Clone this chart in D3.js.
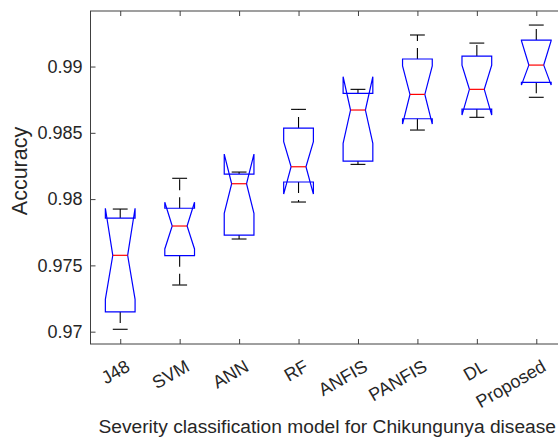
<!DOCTYPE html>
<html>
<head>
<meta charset="utf-8">
<script src="https://cdnjs.cloudflare.com/ajax/libs/d3/7.8.5/d3.min.js"></script>
<style>
  body { margin: 0; background: #fff; }
  text { font-family: "Liberation Sans", Arial, sans-serif; fill: #262626; }
</style>
</head>
<body>
<div id="chart"></div>
<script>
// values
const models = ["J48", "SVM", "ANN", "RF", "ANFIS", "PANFIS", "DL", "Proposed"];
const whiskerLow  = [0.97018, 0.97352, 0.97699, 0.97978, 0.98262, 0.98521, 0.98617, 0.98768];
const quart1      = [0.97149, 0.97573, 0.97729, 0.98129, 0.98287, 0.98606, 0.98679, 0.98881];
const notchLow    = [0.97244, 0.97624, 0.97893, 0.98038, 0.98421, 0.98566, 0.98634, 0.98860];
const medians     = [0.97576, 0.97797, 0.98116, 0.98244, 0.98672, 0.98790, 0.98828, 0.99011];
const notchHigh   = [0.97931, 0.97976, 0.98340, 0.98433, 0.98923, 0.99004, 0.99011, 0.99195];
const quart3      = [0.97857, 0.97931, 0.98189, 0.98536, 0.98798, 0.99057, 0.99079, 0.99200];
const whiskerHigh = [0.97925, 0.98157, 0.98204, 0.98677, 0.98828, 0.99238, 0.99177, 0.99313];
const yTicks = [0.97, 0.975, 0.98, 0.985, 0.99];
const yTickLabels = ["0.97", "0.975", "0.98", "0.985", "0.99"];

(function boxplot(){
  const width = 558, height = 437;
  const left = 90.5, right = 566, top = 11, bottom = 344;

  const svg = d3.select("#chart")
    .append("svg")
    .attr("width", width)
    .attr("height", height);

  const x = d3.scaleLinear().domain([0.5, 8.5]).range([left, right]);
  const y = d3.scaleLinear().domain([0.96907, 0.99419]).range([bottom, top]);

  const w = 0.25; // half box width in category units

  const data = models.map((m, i) => ({
    name: m, pos: i + 1,
    lo: whiskerLow[i], q1: quart1[i], nlo: notchLow[i], med: medians[i],
    nhi: notchHigh[i], q3: quart3[i], hi: whiskerHigh[i]
  }));

  const g = svg.append("g");

  // whiskers (dashed, black)
  g.selectAll(".wup").data(data).join("line")
    .attr("x1", d => x(d.pos)).attr("x2", d => x(d.pos))
    .attr("y1", d => y(d.q3)).attr("y2", d => y(d.hi))
    .attr("stroke", "#000").attr("stroke-width", 1.1)
    .attr("stroke-dasharray", "11,7");
  g.selectAll(".wdn").data(data).join("line")
    .attr("x1", d => x(d.pos)).attr("x2", d => x(d.pos))
    .attr("y1", d => y(d.q1)).attr("y2", d => y(d.lo))
    .attr("stroke", "#000").attr("stroke-width", 1.1)
    .attr("stroke-dasharray", "11,7");

  // caps
  ["hi", "lo"].forEach(k => {
    g.selectAll(".cap-" + k).data(data).join("line")
      .attr("x1", d => x(d.pos - w / 2)).attr("x2", d => x(d.pos + w / 2))
      .attr("y1", d => y(d[k])).attr("y2", d => y(d[k]))
      .attr("stroke", "#000").attr("stroke-width", 1.1);
  });

  // notched boxes
  const line = d3.line();
  g.selectAll(".box").data(data).join("path")
    .attr("d", d => line([
      [x(d.pos - w), y(d.q1)], [x(d.pos - w), y(d.nlo)], [x(d.pos - w / 2), y(d.med)],
      [x(d.pos - w), y(d.nhi)], [x(d.pos - w), y(d.q3)], [x(d.pos + w), y(d.q3)],
      [x(d.pos + w), y(d.nhi)], [x(d.pos + w / 2), y(d.med)], [x(d.pos + w), y(d.nlo)],
      [x(d.pos + w), y(d.q1)]
    ]) + "Z")
    .attr("fill", "none").attr("stroke", "#0000ff").attr("stroke-width", 1.2);

  // medians
  g.selectAll(".med").data(data).join("line")
    .attr("x1", d => x(d.pos - w / 2)).attr("x2", d => x(d.pos + w / 2))
    .attr("y1", d => y(d.med)).attr("y2", d => y(d.med))
    .attr("stroke", "#ff0000").attr("stroke-width", 1.2);

  // axes frame
  svg.append("rect")
    .attr("x", left).attr("y", top)
    .attr("width", right - left).attr("height", bottom - top)
    .attr("fill", "none").attr("stroke", "#404040").attr("stroke-width", 1);

  const yAxis = svg.append("g")
    .attr("transform", `translate(${left},0)`)
    .call(d3.axisLeft(y).tickValues(yTicks).tickSize(-5).tickPadding(8)
      .tickFormat((d, i) => yTickLabels[i]));
  yAxis.select(".domain").remove();
  yAxis.selectAll("line").attr("stroke", "#404040");
  yAxis.selectAll("text").attr("font-size", 18).attr("font-family", null).attr("fill", null);

  const xAxis = svg.append("g")
    .attr("transform", `translate(0,${bottom})`)
    .call(d3.axisBottom(x).tickValues(d3.range(1, models.length + 1)).tickSize(-5)
      .tickFormat(() => ""));
  xAxis.select(".domain").remove();
  xAxis.selectAll("line").attr("stroke", "#404040");

  const topAxis = svg.append("g")
    .attr("transform", `translate(0,${top})`)
    .call(d3.axisTop(x).tickValues(d3.range(1, models.length + 1)).tickSize(-5)
      .tickFormat(() => ""));
  topAxis.select(".domain").remove();
  topAxis.selectAll("line").attr("stroke", "#404040");

  // rotated category labels
  svg.append("g").selectAll("text").data(data).join("text")
    .attr("transform", d => `translate(${x(d.pos) + 11},${bottom + 26}) rotate(-30)`)
    .attr("text-anchor", "end")
    .attr("font-size", 18)
    .text(d => d.name);

  // axis titles
  svg.append("text")
    .attr("x", (left + right) / 2 - 1).attr("y", 433)
    .attr("text-anchor", "middle").attr("font-size", 19.2)
    .text("Severity classification model for Chikungunya disease");

  svg.append("text")
    .attr("transform", `translate(27,171) rotate(-90)`)
    .attr("text-anchor", "middle").attr("font-size", 21.5)
    .text("Accuracy");
})();
</script>
</body>
</html>
